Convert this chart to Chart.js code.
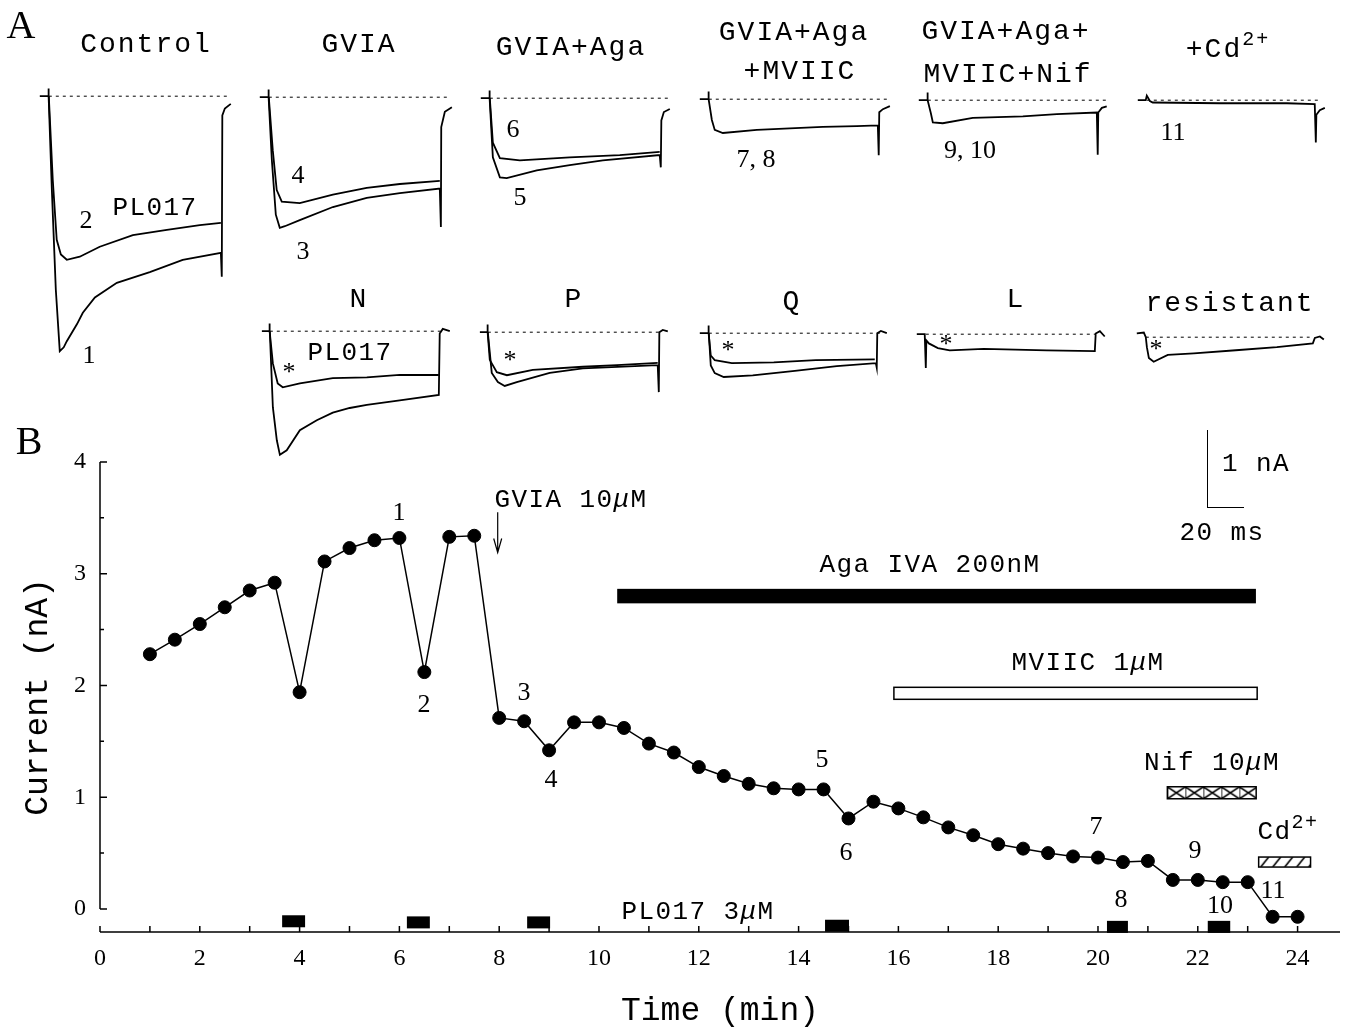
<!DOCTYPE html>
<html>
<head>
<meta charset="utf-8">
<script src="https://cdn.jsdelivr.net/npm/chart.js@4.4.1/dist/chart.umd.min.js"></script>
<style>
  body { margin: 0; background: #fff; }
  #page { position: relative; width: 1348px; height: 1031px; overflow: hidden; background: #fff; }
  canvas { position: absolute; }
  .t { position: absolute; transform: translate(-50%, -50%); white-space: nowrap; color: #000; line-height: 1;
       font-family: "Liberation Mono", monospace; font-size: 28px; letter-spacing: 2px; }
  .s { font-size: 26px; letter-spacing: 1.4px; }
  .n { font-family: "Liberation Serif", serif; font-size: 26px; letter-spacing: 0; }
  .big { font-family: "Liberation Serif", serif; font-size: 40px; letter-spacing: 0; }
  .t sup { font-size: 20px; position: relative; top: -6px; vertical-align: top; }
  #scalebar { position: absolute; left: 1207px; top: 430px; width: 36px; height: 77px;
              border-left: 1.5px solid #000; border-bottom: 1.5px solid #000; }
</style>
</head>
<body>
<div id="page">
  <canvas id="chartB" width="1348" height="1031" style="left:0;top:0"></canvas>

  <div class="t big" style="left:21px;top:25px">A</div>
  <div class="t" style="left:146px;top:45px">Control</div>
  <div class="t" style="left:359px;top:45px">GVIA</div>
  <div class="t" style="left:571px;top:48px">GVIA+Aga</div>
  <div class="t" style="left:794px;top:33px">GVIA+Aga</div>
  <div class="t" style="left:800px;top:72px">+MVIIC</div>
  <div class="t" style="left:1006px;top:32px">GVIA+Aga+</div>
  <div class="t" style="left:1008px;top:75px">MVIIC+Nif</div>
  <div class="t" style="left:1228px;top:50px">+Cd<sup>2+</sup></div>

  <div class="t n" style="left:86px;top:220px">2</div>
  <div class="t s" style="left:155px;top:208px">PL017</div>
  <div class="t n" style="left:89px;top:355px">1</div>
  <div class="t n" style="left:298px;top:175px">4</div>
  <div class="t n" style="left:303px;top:251px">3</div>
  <div class="t n" style="left:513px;top:129px">6</div>
  <div class="t n" style="left:520px;top:197px">5</div>
  <div class="t n" style="left:756px;top:159px">7, 8</div>
  <div class="t n" style="left:970px;top:150px">9, 10</div>
  <div class="t n" style="left:1173px;top:132px">11</div>

  <div class="t" style="left:359px;top:300px">N</div>
  <div class="t" style="left:574px;top:300px">P</div>
  <div class="t" style="left:792px;top:302px">Q</div>
  <div class="t" style="left:1016px;top:300px">L</div>
  <div class="t" style="left:1230px;top:304px">resistant</div>
  <div class="t s" style="left:350px;top:353px">PL017</div>
  <div class="t n" style="left:289px;top:372px">*</div>
  <div class="t n" style="left:510px;top:360px">*</div>
  <div class="t n" style="left:728px;top:350px">*</div>
  <div class="t n" style="left:946px;top:344px">*</div>
  <div class="t n" style="left:1156px;top:349px">*</div>

  <div class="t big" style="left:29px;top:441px">B</div>
  <div class="t s" style="left:571px;top:500px">GVIA 10<i>μ</i>M</div>
  <div class="t s" style="left:930px;top:565px">Aga IVA 200nM</div>
  <div class="t s" style="left:1088px;top:663px">MVIIC 1<i>μ</i>M</div>
  <div class="t s" style="left:1212px;top:763px">Nif 10<i>μ</i>M</div>
  <div class="t s" style="left:1288px;top:832px">Cd<sup>2+</sup></div>
  <div class="t s" style="left:698px;top:912px">PL017 3<i>μ</i>M</div>
  <div class="t s" style="left:1256px;top:464px">1 nA</div>
  <div class="t s" style="left:1222px;top:533px">20 ms</div>
  <div id="scalebar"></div>

  <div class="t n" style="left:399px;top:512px">1</div>
  <div class="t n" style="left:424px;top:704px">2</div>
  <div class="t n" style="left:524px;top:692px">3</div>
  <div class="t n" style="left:551px;top:779px">4</div>
  <div class="t n" style="left:822px;top:759px">5</div>
  <div class="t n" style="left:846px;top:852px">6</div>
  <div class="t n" style="left:1096px;top:826px">7</div>
  <div class="t n" style="left:1121px;top:899px">8</div>
  <div class="t n" style="left:1195px;top:850px">9</div>
  <div class="t n" style="left:1220px;top:905px">10</div>
  <div class="t n" style="left:1273px;top:890px">11</div>
</div>

<script>
// ---- Panel B: peak current vs time ----
const timeMin = [1, 1.5, 2, 2.5, 3, 3.5, 4, 4.5, 5, 5.5, 6, 6.5, 7, 7.5, 8, 8.5, 9, 9.5, 10, 10.5,
  11, 11.5, 12, 12.5, 13, 13.5, 14, 14.5, 15, 15.5, 16, 16.5, 17, 17.5, 18, 18.5, 19, 19.5, 20, 20.5,
  21, 21.5, 22, 22.5, 23, 23.5, 24];
const currentNA = [2.28, 2.41, 2.55, 2.70, 2.85, 2.92, 1.94, 3.11, 3.23, 3.30, 3.32, 2.12, 3.33, 3.34,
  1.71, 1.68, 1.42, 1.67, 1.67, 1.62, 1.48, 1.40, 1.27, 1.19, 1.12, 1.08, 1.07, 1.07, 0.81, 0.96,
  0.90, 0.82, 0.73, 0.66, 0.58, 0.54, 0.50, 0.47, 0.46, 0.42, 0.43, 0.26, 0.26, 0.24, 0.24, -0.07, -0.07];

// drug application bars (Aga IVA, MVIIC, Nif, Cd2+)
const drugStart = [10.38, 15.91, 21.39, 23.22];
const drugEnd = [23.15, 23.19, 23.17, 24.26];
const drugLevel = [2.80, 1.93, 1.04, 0.42];
// PL017 applications
const pl017Start = [3.65, 6.15, 8.56, 14.53, 20.18, 22.2];
const pl017End = [4.11, 6.61, 9.02, 15.01, 20.6, 22.65];
const pl017Level = [-0.11, -0.12, -0.12, -0.15, -0.16, -0.16];
// GVIA arrow: time, from, to (nA)
const gviaArrow = [7.97, 3.55, 3.19];

const xTickValues = [0, 1, 2, 3, 4, 5, 6, 7, 8, 9, 10, 11, 12, 13, 14, 15, 16, 17, 18, 19, 20, 21, 22, 23, 24];
const yTickValues = [0, 1, 2, 3, 4];
const yMinorTicks = [0.5, 1.5, 2.5, 3.5];

// ---- Panel A: current traces (ms, nA) ----
const controlTrace1 = [[-5,0],[-0.4,0],[-0.2,0.1],[0,0],[1.7,-1.22],[3.9,-2.52],[6.1,-3.32],[8.3,-3.27],[10,-3.19],[15.6,-2.97],[18.9,-2.82],[25.6,-2.62],[37.8,-2.43],[56.1,-2.29],[74.4,-2.13],[95.6,-2.04],[96.1,-2.35],[96.4,-0.25],[97.8,-0.16],[101.1,-0.1]];
const controlTrace2 = [[0,0],[2.2,-1.09],[4.4,-1.87],[6.7,-2.06],[10,-2.13],[17.2,-2.09],[28.3,-1.96],[46.7,-1.81],[65.6,-1.74],[83.9,-1.68],[95.6,-1.65]];
const gviaTrace3 = [[-5,0],[-0.4,0],[-0.2,0.1],[0,0],[1.7,-0.82],[3.9,-1.53],[6.1,-1.7],[8.9,-1.68],[17.2,-1.6],[35.6,-1.43],[54.4,-1.31],[72.8,-1.25],[95,-1.19],[95.6,-1.69],[95.8,-0.39],[97.8,-0.19],[101.7,-0.13]];
const gviaTrace4 = [[0,0],[2.2,-0.69],[4.4,-1.21],[7.2,-1.36],[17.2,-1.38],[35.6,-1.27],[54.4,-1.18],[72.8,-1.13],[95,-1.09]];
const agaTrace5 = [[-5,0],[-0.4,0],[-0.2,0.1],[0,0],[1.7,-0.77],[5.6,-1.03],[9.4,-1.04],[26.1,-0.94],[44.4,-0.87],[62.8,-0.81],[94.4,-0.74],[95,-0.9],[95.3,-0.29],[96.7,-0.18],[100,-0.14]];
const agaTrace6 = [[0,0],[1.7,-0.58],[5.6,-0.78],[16.7,-0.81],[44.4,-0.77],[72.2,-0.74],[94.4,-0.7]];
const mviicTrace78 = [[-5,0],[-0.4,0],[-0.2,0.1],[0,0],[1.7,-0.27],[3.3,-0.4],[7.8,-0.44],[26.7,-0.4],[45,-0.38],[63.3,-0.36],[82.2,-0.35],[93.9,-0.34],[94.4,-0.73],[94.7,-0.17],[96.7,-0.13],[100.6,-0.09]];
const nifTrace910 = [[-5,0],[-0.4,0],[-0.2,0.1],[0,0],[1.7,-0.17],[2.8,-0.29],[8.3,-0.3],[25,-0.23],[52.8,-0.21],[71.7,-0.18],[93.9,-0.16],[94.4,-0.71],[94.7,-0.16],[96.7,-0.1],[99.4,-0.08]];
const cdTrace11 = [[-5,0],[-0.6,0],[0,0.06],[1.7,-0.01],[3.3,-0.03],[40.6,-0.04],[77.8,-0.04],[93.3,-0.05],[93.9,-0.55],[94.2,-0.19],[96.1,-0.13],[98.9,-0.1]];
const nTracePL = [[-4.4,0],[-0.4,0],[-0.2,0.1],[0,0],[1.7,-0.42],[4.4,-0.68],[7.2,-0.73],[16.7,-0.68],[35,-0.61],[53.9,-0.6],[72.2,-0.57],[93.9,-0.57]];
const nTraceCtl = [[0,0],[1.7,-0.99],[3.9,-1.42],[5.6,-1.61],[9.4,-1.55],[16.7,-1.29],[26.1,-1.16],[35,-1.06],[44.4,-1],[53.9,-0.96],[72.2,-0.9],[93.9,-0.83],[94.4,-0.03],[96.1,0.03],[100,0]];
const pTracePL = [[-4.4,0],[-0.4,0],[-0.2,0.1],[0,0],[1.1,-0.36],[5,-0.52],[10.6,-0.56],[25,-0.49],[52.8,-0.45],[71.7,-0.43],[94.4,-0.4]];
const pTraceCtl = [[0,0],[2.2,-0.53],[5.6,-0.65],[9.4,-0.7],[16.1,-0.65],[34.4,-0.53],[52.8,-0.47],[94.4,-0.43],[95,-0.78],[95.3,0],[97.2,0.03],[100,0.01]];
const qTracePL = [[-5,0],[-0.4,0],[-0.2,0.1],[0,0],[1.1,-0.29],[3.3,-0.35],[12.8,-0.39],[36.1,-0.38],[59.4,-0.35],[92.2,-0.34]];
const qTraceCtl = [[0,0],[1.1,-0.42],[3.3,-0.52],[8.3,-0.57],[24.4,-0.55],[47.8,-0.49],[71.1,-0.43],[92.8,-0.39],[93.3,-0.45],[93.6,0],[95.6,0.03],[98.9,0]];
const lTrace = [[-5,0],[-0.6,0],[0,-0.44],[0.3,-0.08],[1.7,-0.12],[6.7,-0.18],[13.3,-0.21],[32.2,-0.19],[67.2,-0.21],[93.9,-0.22],[94.4,0.01],[96.7,0.04],[99.4,-0.03]];
const resTrace = [[-5,0.05],[-1.1,0.06],[0,0],[0.6,-0.13],[1.7,-0.27],[4.4,-0.32],[12.2,-0.23],[26.7,-0.21],[50,-0.17],[72.8,-0.13],[92.8,-0.08],[93.9,-0.01],[96.7,0.01],[98.9,-0.03]];
const baselineEnd = [101, 101, 99, 100.5, 100, 96, 95.5, 95.5, 95, 94, 91];

const panelTraces = [
  [controlTrace1, controlTrace2], [gviaTrace3, gviaTrace4], [agaTrace5, agaTrace6],
  [mviicTrace78], [nifTrace910], [cdTrace11],
  [nTracePL, nTraceCtl], [pTracePL, pTraceCtl], [qTracePL, qTraceCtl], [lTrace], [resTrace]
];

// layout of the trace panels (pixel position of step onset and zero current)
const panelX0 = [49, 269, 490, 709, 928, 1147, 270, 488, 709, 926, 1146];
const panelBase = [96, 97, 98, 99, 100, 100, 331, 332, 333, 334, 337];
const MS_PX = 1.8, NA_PX = 77;      // 20 ms = 36 px, 1 nA = 77 px
const T_MIN = -6, T_MAX = 104, I_MIN = -3.5, I_MAX = 0.25;

Chart.defaults.font.family = '"Liberation Serif", serif';
Chart.defaults.color = '#000';

const page = document.getElementById('page');

panelTraces.forEach((traces, i) => {
  const c = document.createElement('canvas');
  c.width = (T_MAX - T_MIN) * MS_PX;
  c.height = (I_MAX - I_MIN) * NA_PX;
  c.style.left = (panelX0[i] + T_MIN * MS_PX) + 'px';
  c.style.top = (panelBase[i] - I_MAX * NA_PX) + 'px';
  page.insertBefore(c, page.children[1]);

  const datasets = [{
    data: [{ x: 0, y: 0 }, { x: baselineEnd[i], y: 0 }],
    borderColor: '#000', borderWidth: 1, borderDash: [3, 4], pointRadius: 0
  }];
  traces.forEach(tr => datasets.push({
    data: tr.map(p => ({ x: p[0], y: p[1] })),
    borderColor: '#000', borderWidth: 1.8, pointRadius: 0, tension: 0, clip: false
  }));

  new Chart(c, {
    type: 'line',
    data: { datasets },
    options: {
      responsive: false, animation: false,
      layout: { padding: 0 },
      plugins: { legend: { display: false }, tooltip: { enabled: false } },
      scales: {
        x: { type: 'linear', min: T_MIN, max: T_MAX, display: false },
        y: { min: I_MIN, max: I_MAX, display: false }
      }
    }
  });
});

// fill patterns for Nif and Cd bars
function makePattern(ctx, kind) {
  const c = document.createElement('canvas');
  const g = c.getContext('2d');
  c.width = kind === 'cross' ? 18 : 12;
  c.height = kind === 'cross' ? 12 : 10;
  g.fillStyle = '#fff';
  g.fillRect(0, 0, c.width, c.height);
  g.strokeStyle = '#000';
  g.lineWidth = 1.6;
  g.beginPath();
  if (kind === 'cross') {
    g.moveTo(0, 0); g.lineTo(18, 12);
    g.moveTo(0, 12); g.lineTo(18, 0);
    g.moveTo(0, 0); g.lineTo(0, 12);
  } else {
    g.moveTo(2, 10); g.lineTo(10, 0);
  }
  g.stroke();
  return ctx.createPattern(c, 'repeat');
}

const barsPlugin = {
  id: 'bars',
  beforeDatasetsDraw(chart) {
    const { ctx, scales: { x, y } } = chart;
    const heights = [13, 12, 12, 10];
    ctx.save();
    drugStart.forEach((s, i) => {
      const x1 = x.getPixelForValue(s), x2 = x.getPixelForValue(drugEnd[i]);
      const h = heights[i];
      const top = y.getPixelForValue(drugLevel[i]) - h / 2;
      let fill = '#000';
      if (i === 1) fill = '#fff';
      if (i >= 2) {
        fill = makePattern(ctx, i === 2 ? 'cross' : 'hatch');
        fill.setTransform(new DOMMatrix().translate(x1, top));
      }
      ctx.fillStyle = fill;
      ctx.fillRect(x1, top, x2 - x1, h);
      ctx.strokeStyle = '#000';
      ctx.lineWidth = 1.5;
      ctx.strokeRect(x1, top, x2 - x1, h);
    });
    ctx.fillStyle = '#000';
    pl017Start.forEach((s, i) => {
      const x1 = x.getPixelForValue(s), x2 = x.getPixelForValue(pl017End[i]);
      const yc = y.getPixelForValue(pl017Level[i]);
      ctx.fillRect(x1, yc - 6, x2 - x1, 12);
    });
    // GVIA arrow
    const ax = x.getPixelForValue(gviaArrow[0]);
    const ay1 = y.getPixelForValue(gviaArrow[1]), ay2 = y.getPixelForValue(gviaArrow[2]);
    ctx.strokeStyle = '#000';
    ctx.lineWidth = 1.2;
    ctx.beginPath();
    ctx.moveTo(ax, ay1); ctx.lineTo(ax, ay2);
    ctx.moveTo(ax - 4, ay2 - 14); ctx.lineTo(ax, ay2); ctx.lineTo(ax + 4, ay2 - 14);
    ctx.stroke();
    ctx.restore();
  }
};

const axesPlugin = {
  id: 'axes',
  beforeDatasetsDraw(chart) {
    const { ctx, chartArea: { left, right, bottom }, scales: { x, y } } = chart;
    ctx.save();
    ctx.strokeStyle = '#000';
    ctx.lineWidth = 1.5;
    ctx.beginPath();
    ctx.moveTo(left, y.getPixelForValue(yTickValues[yTickValues.length - 1]));
    ctx.lineTo(left, y.getPixelForValue(0));
    ctx.moveTo(left, bottom);
    ctx.lineTo(right, bottom);
    yTickValues.forEach(v => {
      const py = y.getPixelForValue(v);
      ctx.moveTo(left, py); ctx.lineTo(left + 7, py);
    });
    yMinorTicks.forEach(v => {
      const py = y.getPixelForValue(v);
      ctx.moveTo(left, py); ctx.lineTo(left + 4, py);
    });
    xTickValues.forEach(v => {
      const px = x.getPixelForValue(v);
      ctx.moveTo(px, bottom); ctx.lineTo(px, bottom - 6);
    });
    ctx.stroke();
    ctx.restore();
  }
};

new Chart(document.getElementById('chartB'), {
  type: 'scatter',
  data: {
    datasets: [{
      data: timeMin.map((t, i) => ({ x: t, y: currentNA[i] })),
      showLine: true,
      borderColor: '#000',
      borderWidth: 1.5,
      backgroundColor: '#000',
      pointRadius: 6.5,
      pointBorderWidth: 1,
      pointBorderColor: '#000',
      pointBackgroundColor: '#000'
    }]
  },
  options: {
    responsive: false, animation: false,
    layout: { padding: { top: 462, right: 8, left: 0, bottom: 0 } },
    plugins: { legend: { display: false }, tooltip: { enabled: false } },
    scales: {
      x: {
        type: 'linear', min: 0, max: 24.85,
        afterFit: s => { s.height = 99; },
        afterBuildTicks: s => { s.ticks = xTickValues.map(v => ({ value: v })); },
        grid: { display: false, drawTicks: false, tickLength: 0 },
        border: { display: false },
        ticks: {
          autoSkip: false, maxRotation: 0, padding: 12,
          font: { size: 24 },
          callback: v => (v % 2 === 0 ? v : '')
        },
        title: {
          display: true, text: 'Time (min)',
          font: { family: '"Liberation Mono", monospace', size: 33 },
          padding: { top: 0, bottom: 0 }
        }
      },
      y: {
        min: -0.206, max: 4,
        afterFit: s => { s.width = 100; },
        afterBuildTicks: s => { s.ticks = yTickValues.map(v => ({ value: v })); },
        grid: { display: false, drawTicks: false, tickLength: 0 },
        border: { display: false },
        ticks: { padding: 14, font: { size: 24 } },
        title: {
          display: true, text: 'Current (nA)',
          font: { family: '"Liberation Mono", monospace', size: 33 },
          padding: { top: 18, bottom: 0 }
        }
      }
    }
  },
  plugins: [barsPlugin, axesPlugin]
});
</script>
</body>
</html>
